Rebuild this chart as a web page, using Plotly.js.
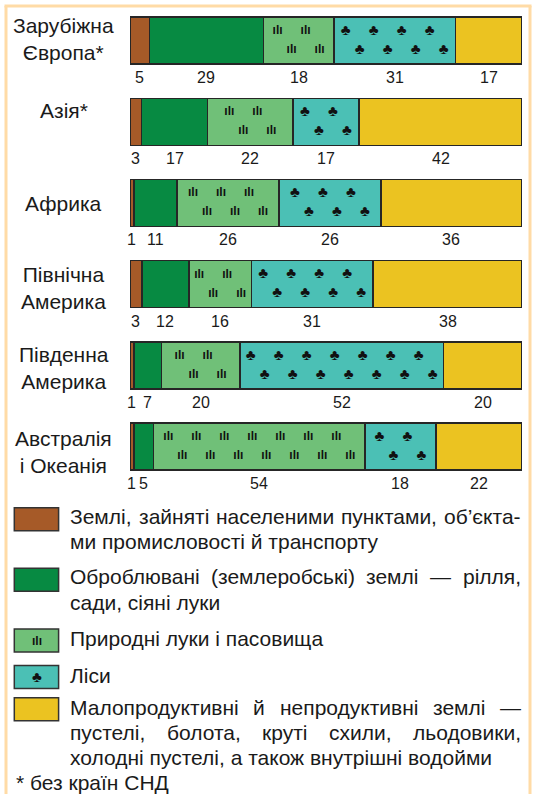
<!DOCTYPE html>
<html><head><meta charset="utf-8">
<script src="https://cdn.plot.ly/plotly-3.0.1.min.js"></script>
<style>html,body{margin:0;padding:0;background:#fff;} #chart{width:534px;height:794px;}</style>
</head><body><div id="chart"></div>
<script>
// ---- data ----
const categories = ['Зарубіжна<br>Європа*', 'Азія*', 'Африка', 'Північна<br>Америка', 'Південна<br>Америка', 'Австралія<br>і Океанія'];
const settlements  = [5, 3, 1, 3, 1, 1];
const cultivated   = [29, 17, 11, 12, 7, 5];
const pastures     = [18, 22, 26, 16, 20, 54];
const forests      = [31, 17, 26, 31, 52, 18];
const unproductive = [17, 42, 36, 38, 20, 22];
const legendLines = [
  ['Землі, зайняті населеними пунктами, об’єкта-', 'ми промисловості й транспорту'],
  ['Оброблювані (землеробські) землі — рілля,', 'сади, сіяні луки'],
  ['Природні луки і пасовища'],
  ['Ліси'],
  ['Малопродуктивні й непродуктивні землі —', 'пустелі, болота, круті схили, льодовики,', 'холодні пустелі, а також внутрішні водойми']
];
const footnote = '* без країн СНД';

// ---- style ----
const series = [settlements, cultivated, pastures, forests, unproductive];
const colors = ['#A65A28', '#078A42', '#70C078', '#4BC0B5', '#EBC321'];
const grassIcon = 'ılı', treeIcon = '♣';
const icons = [null, null, grassIcon, treeIcon, null];
const iconSize = [0, 0, 12, 15, 0];
const FONT = 'Liberation Sans, Arial, sans-serif';
const TXT = 21;
const L = 130, W = 392, T = 0, H = 487, FULLW = 534, FULLH = 794;
const px2x = p => (p - L) / W;
const py2y = p => 1 - (p - T) / H;
const rowH = H / categories.length;

const totals = categories.map((_, i) => series.reduce((s, a) => s + a[i], 0));
const pct = series.map(a => a.map((v, i) => v / totals[i] * 100));
const yIdx = categories.map((_, i) => i);

const traces = series.map((a, k) => ({
  type: 'bar', orientation: 'h', x: pct[k], y: yIdx, width: 47 / rowH,
  marker: { color: colors[k], line: { color: '#262626', width: 1.5 } },
  hoverinfo: 'skip', showlegend: false
}));

const annotations = [];
const iconTraces = [];
const step = 28 / W * 100, rowOff = 9.5 / rowH;
yIdx.forEach(i => {
  let cum = 0;
  series.forEach((a, k) => {
    const w = pct[k][i];
    annotations.push({ xref: 'x', yref: 'y', x: cum + w / 2, y: i, yshift: -37, text: String(a[i]),
      showarrow: false, font: { family: FONT, size: 16, color: '#1a1a1a' }, xanchor: 'center', yanchor: 'middle' });
    if (icons[k]) {
      const n = Math.floor((w - 1) / step);
      if (n >= 1) {
        const gw = (n - 1) * step + step / 2;
        const x0 = cum + w / 2 - gw / 2;
        const xs = [], ys = [];
        for (let j = 0; j < n; j++) { xs.push(x0 + j * step); ys.push(i - rowOff); }
        for (let j = 0; j < n; j++) { xs.push(x0 + step / 2 + j * step); ys.push(i + rowOff); }
        iconTraces.push({ type: 'scatter', mode: 'text', x: xs, y: ys, text: xs.map(() => icons[k]),
          textposition: 'middle center', textfont: { family: FONT, size: iconSize[k], color: '#111', weight: 'bold' },
          hoverinfo: 'skip', showlegend: false, cliponaxis: false });
      }
    }
    cum += w;
  });
});

const labelShift = [2, 11, -1, -4, -3, -6];
categories.forEach((c, i) => {
  annotations.push({ xref: 'paper', yref: 'y', x: px2x(63.5), y: i, yshift: labelShift[i], text: c, align: 'center',
    showarrow: false, font: { family: FONT, size: TXT, color: '#1a1a1a' }, xanchor: 'center', yanchor: 'middle' });
});

const shapes = [];
const frameColor = '#FFDBA6';
shapes.push({ type: 'line', xref: 'paper', yref: 'paper', x0: px2x(6), x1: px2x(6), y0: py2y(6), y1: py2y(FULLH + 5), line: { color: frameColor, width: 3 } });
shapes.push({ type: 'line', xref: 'paper', yref: 'paper', x0: px2x(4.5), x1: px2x(531.5), y0: py2y(6), y1: py2y(6), line: { color: frameColor, width: 3 } });
shapes.push({ type: 'line', xref: 'paper', yref: 'paper', x0: px2x(530), x1: px2x(530), y0: py2y(6), y1: py2y(FULLH + 5), line: { color: frameColor, width: 3 } });

// text measuring for justified legend lines
const ctx = document.createElement('canvas').getContext('2d');
ctx.font = TXT + 'px "Liberation Sans", Arial, sans-serif';
const textLeft = 69.8, textRight = 521;
function addText(str, xpx, ypx) {
  annotations.push({ xref: 'paper', yref: 'paper', x: px2x(xpx), y: py2y(ypx), text: str, showarrow: false,
    borderpad: 0, borderwidth: 0,
    font: { family: FONT, size: TXT, color: '#1a1a1a' }, xanchor: 'left', yanchor: 'middle' });
}
function addJustified(str, ypx) {
  const words = str.split(' ');
  const ws = words.map(w => ctx.measureText(w).width);
  const sum = ws.reduce((s, v) => s + v, 0);
  const gap = (textRight - textLeft - sum) / (words.length - 1);
  let x = textLeft;
  words.forEach((w, j) => { addText(w, x, ypx); x += ws[j] + gap; });
}

const swTops = [507.7, 568.3, 629, 665.4, 697.8];
const lineYs = [[516.6, 541.1], [576.9, 602.4], [638.2], [675.6], [707.3, 732.5, 757.4]];
swTops.forEach((t, k) => {
  shapes.push({ type: 'rect', xref: 'paper', yref: 'paper', x0: px2x(14.3), x1: px2x(58.6), y0: py2y(t), y1: py2y(t + 23),
    fillcolor: colors[k], line: { color: '#333', width: 1.5 } });
  if (icons[k]) {
    annotations.push({ xref: 'paper', yref: 'paper', x: px2x(36.5), y: py2y(t + 11.5), text: icons[k], showarrow: false,
      font: { family: FONT, size: iconSize[k], color: '#111', weight: 'bold' }, xanchor: 'center', yanchor: 'middle' });
  }
  const lines = legendLines[k];
  lines.forEach((ln, j) => {
    if (j < lines.length - 1) addJustified(ln, lineYs[k][j]);
    else addText(ln, textLeft, lineYs[k][j]);
  });
});
addText(footnote, 16, 782.5);

const layout = {
  width: FULLW, height: FULLH,
  margin: { l: L, r: FULLW - L - W, t: T, b: FULLH - T - H },
  barmode: 'stack',
  xaxis: { range: [0, 100], visible: false, fixedrange: true },
  yaxis: { range: [categories.length - 0.5, -0.5], visible: false, fixedrange: true },
  paper_bgcolor: '#ffffff', plot_bgcolor: 'rgba(0,0,0,0)',
  annotations, shapes, showlegend: false
};
Plotly.newPlot('chart', traces.concat(iconTraces), layout, { displayModeBar: false, staticPlot: true });
</script></body></html>
